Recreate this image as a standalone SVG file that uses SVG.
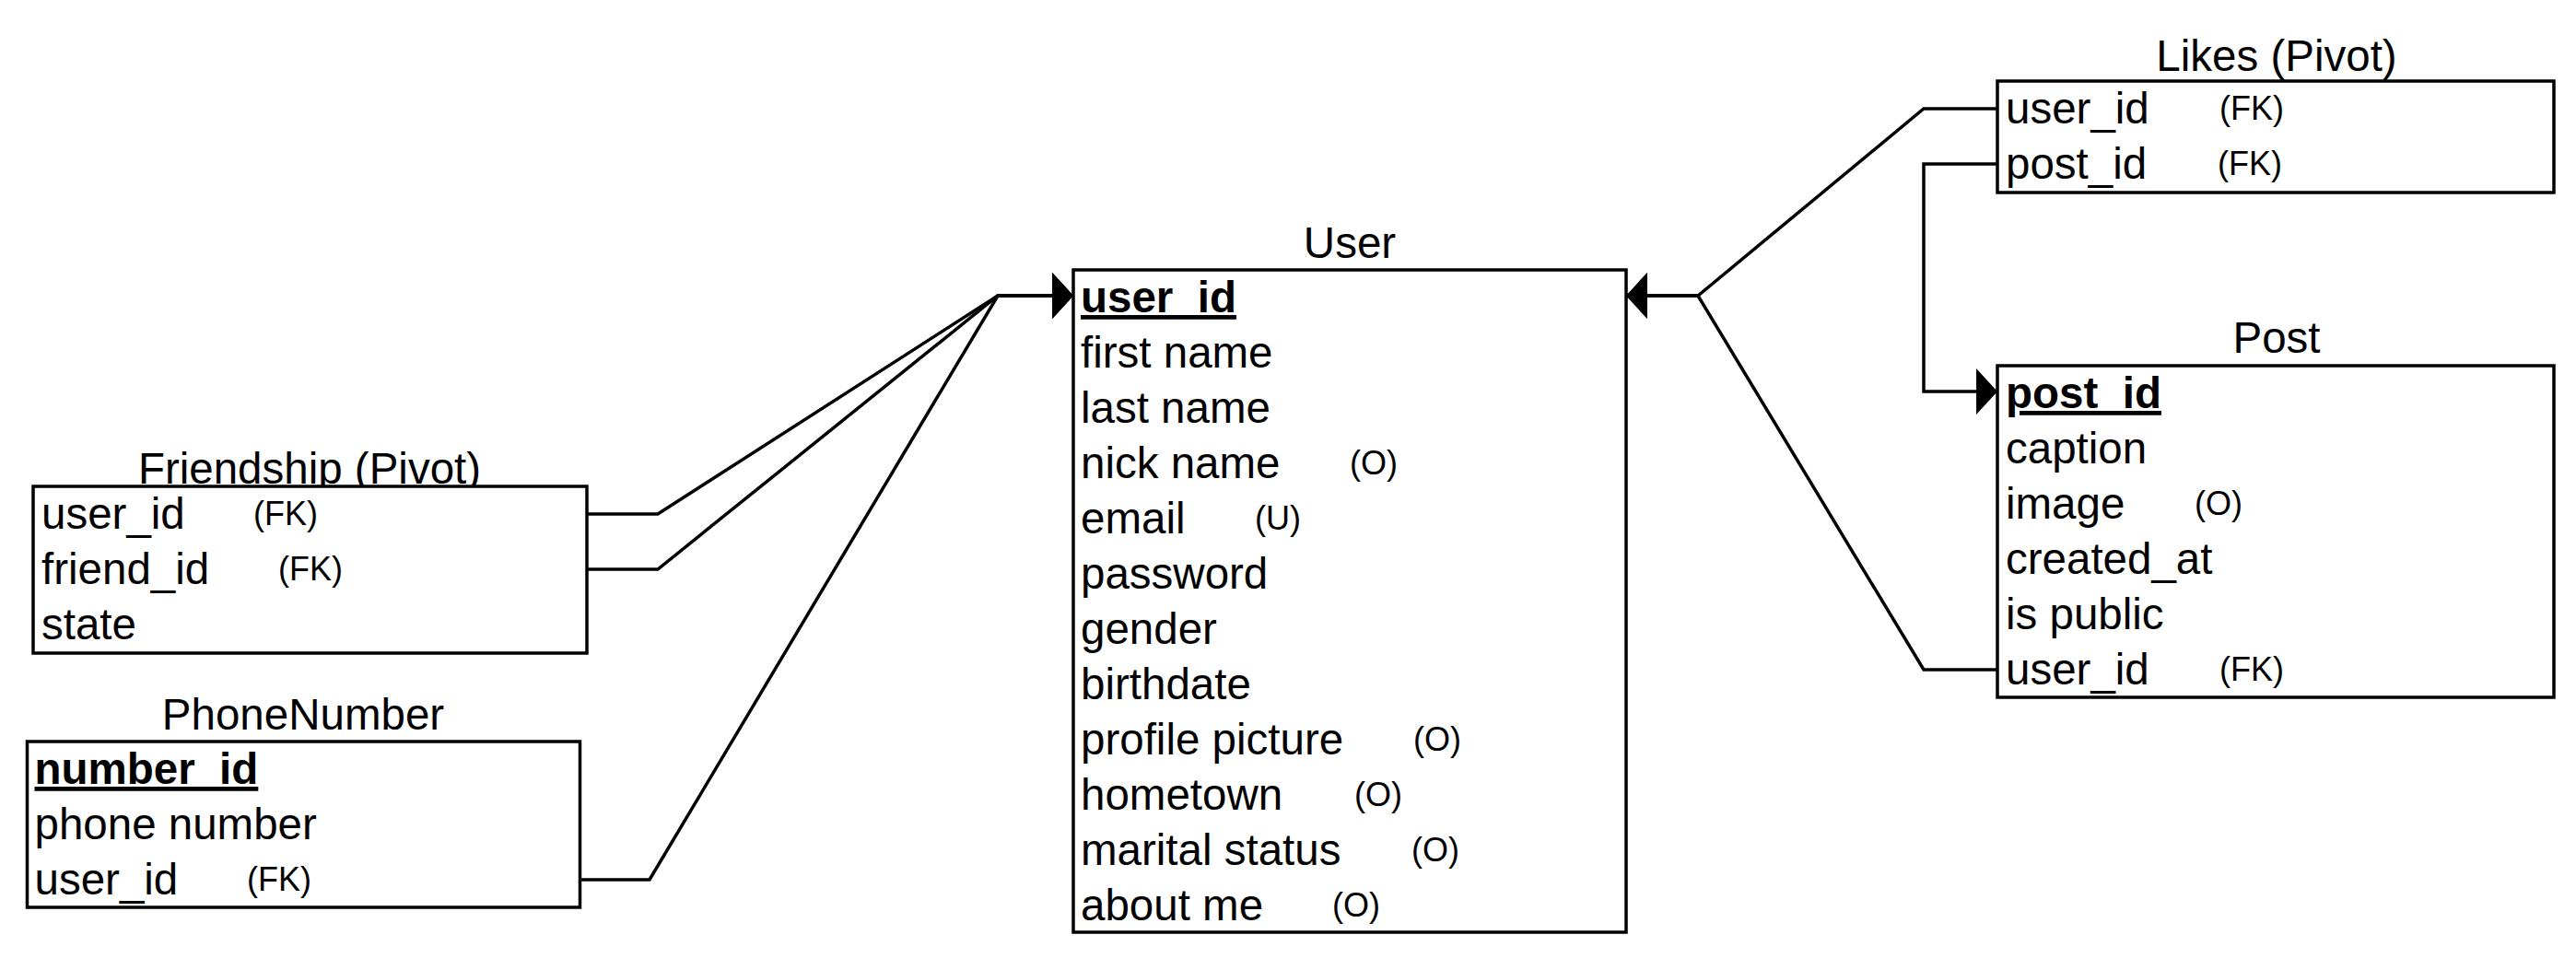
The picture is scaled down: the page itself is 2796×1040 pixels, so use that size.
<svg xmlns="http://www.w3.org/2000/svg" width="2796" height="1040" viewBox="0 0 2796 1040">
<style>
text{font-family:"Liberation Sans",Arial,sans-serif;fill:#000}
.t{font-size:47.5px;text-anchor:middle}
.f{font-size:47.5px}
.k{font-size:47.5px;font-weight:bold;text-decoration:underline}
.s{font-size:36px}
.box{fill:#fff;stroke:#000;stroke-width:3.5}
.c{fill:none;stroke:#000;stroke-width:3.5;stroke-linejoin:miter}
</style>
<defs>
<marker id="arr" markerUnits="userSpaceOnUse" markerWidth="24" markerHeight="50" viewBox="0 0 22 48" refX="22" refY="24" orient="auto">
<path d="M0,0 L22,24 L0,48 Z" fill="#000"/>
</marker>
</defs>
<rect width="2796" height="1040" fill="#fff"/>

<g id="User">
<text class="t" x="1465" y="280">User</text>
<rect class="box" x="1165" y="293" width="600" height="719"/>
<text class="k" x="1173" y="339">user_id</text>
<text class="f" x="1173" y="399">first name</text>
<text class="f" x="1173" y="459">last name</text>
<text class="f" x="1173" y="519">nick name</text><text class="s" x="1465" y="515">(O)</text>
<text class="f" x="1173" y="579">email</text><text class="s" x="1362" y="575">(U)</text>
<text class="f" x="1173" y="639">password</text>
<text class="f" x="1173" y="699">gender</text>
<text class="f" x="1173" y="759">birthdate</text>
<text class="f" x="1173" y="819">profile picture</text><text class="s" x="1534" y="815">(O)</text>
<text class="f" x="1173" y="879">hometown</text><text class="s" x="1470" y="875">(O)</text>
<text class="f" x="1173" y="939">marital status</text><text class="s" x="1532" y="935">(O)</text>
<text class="f" x="1173" y="999">about me</text><text class="s" x="1446" y="995">(O)</text>
</g>

<g id="Friendship">
<text class="t" x="336" y="525">Friendship (Pivot)</text>
<rect class="box" x="36" y="528" width="601" height="181"/>
<text class="f" x="45" y="574">user_id</text><text class="s" x="275" y="570">(FK)</text>
<text class="f" x="45" y="634">friend_id</text><text class="s" x="302" y="630">(FK)</text>
<text class="f" x="45" y="694">state</text>
</g>

<g id="PhoneNumber">
<text class="t" x="329" y="792">PhoneNumber</text>
<rect class="box" x="29.5" y="805" width="600" height="180"/>
<text class="k" x="37.5" y="851">number_id</text>
<text class="f" x="37.5" y="911">phone number</text>
<text class="f" x="37.5" y="971">user_id</text><text class="s" x="268" y="967">(FK)</text>
</g>

<g id="Likes">
<text class="t" x="2471" y="77">Likes (Pivot)</text>
<rect class="box" x="2168" y="88" width="604" height="121"/>
<text class="f" x="2177" y="134">user_id</text><text class="s" x="2409" y="130">(FK)</text>
<text class="f" x="2177" y="194">post_id</text><text class="s" x="2407" y="190">(FK)</text>
</g>

<g id="Post">
<text class="t" x="2471" y="383">Post</text>
<rect class="box" x="2168" y="397" width="604" height="360"/>
<text class="k" x="2177" y="443">post_id</text>
<text class="f" x="2177" y="503">caption</text>
<text class="f" x="2177" y="563">image</text><text class="s" x="2382" y="559">(O)</text>
<text class="f" x="2177" y="623">created_at</text>
<text class="f" x="2177" y="683">is public</text>
<text class="f" x="2177" y="743">user_id</text><text class="s" x="2409" y="739">(FK)</text>
</g>

<g id="connectors">
<path class="c" d="M637,558 L714,558 L1083,321 L1165,321" marker-end="url(#arr)"/>
<path class="c" d="M637,618 L714,618 L1083,321 L1165,321" marker-end="url(#arr)"/>
<path class="c" d="M629.5,955 L705,955 L1083,321 L1165,321" marker-end="url(#arr)"/>
<path class="c" d="M2168,118 L2088,118 L1843,321 L1765,321" marker-end="url(#arr)"/>
<path class="c" d="M2168,727 L2088,727 L1843,321 L1765,321" marker-end="url(#arr)"/>
<path class="c" d="M2168,178 L2088,178 L2088,425 L2168,425" marker-end="url(#arr)"/>
</g>
</svg>
